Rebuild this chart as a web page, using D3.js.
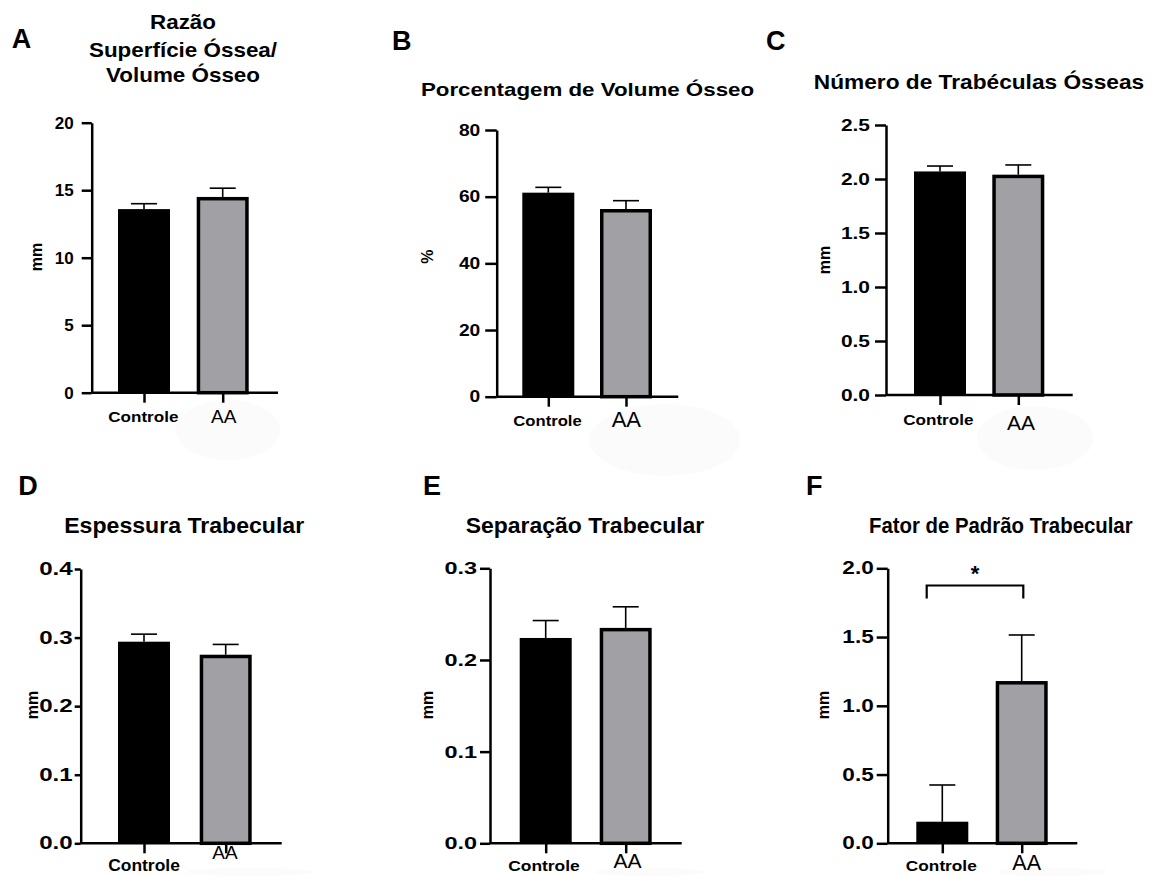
<!DOCTYPE html>
<html>
<head>
<meta charset="utf-8">
<script src="https://cdn.jsdelivr.net/npm/d3@7"></script>
<style>
  body { margin: 0; background: #fff; }
  svg { display: block; }
  text { font-family: "Liberation Sans", Arial, sans-serif; fill: #000; }
</style>
</head>
<body>
<svg width="1155" height="876"></svg>
<script>
// ---- data ----
var panelLetters = ["A", "B", "C", "D", "E", "F"];
var panelTitles = [
  ["Razão", "Superfície Óssea/", "Volume Ósseo"],
  ["Porcentagem de Volume Ósseo"],
  ["Número de Trabéculas Ósseas"],
  ["Espessura Trabecular"],
  ["Separação Trabecular"],
  ["Fator de Padrão Trabecular"]
];
var groups = ["Controle", "AA"];
var yLabels = ["mm", "%", "mm", "mm", "mm", "mm"];
var yMax = [20, 80, 2.5, 0.4, 0.3, 2.0];
var yTicks = [
  [0, 5, 10, 15, 20],
  [0, 20, 40, 60, 80],
  [0, 0.5, 1.0, 1.5, 2.0, 2.5],
  [0, 0.1, 0.2, 0.3, 0.4],
  [0, 0.1, 0.2, 0.3],
  [0, 0.5, 1.0, 1.5, 2.0]
];
var tickDecimals = [0, 0, 1, 1, 1, 1];
var controleMean = [13.6, 61.2, 2.07, 0.294, 0.224, 0.157];
var controleErr  = [0.4, 1.6, 0.05, 0.011, 0.019, 0.267];
var aaMean       = [14.5, 56.3, 2.04, 0.275, 0.235, 1.18];
var aaErr        = [0.65, 2.5, 0.09, 0.015, 0.023, 0.335];
// significance bracket (panel F only): bar height and leg bottom in data units
var sigLabel = [null, null, null, null, null, "*"];
var sigTop   = [null, null, null, null, null, 1.875];
var sigLeg   = [null, null, null, null, null, 1.78];

// ---- layout (positions / styles per panel) ----
var layout = [
  {left: 91.7, right: 278, top: 122.7, bottom: 392.7, cx: [144, 222.7],
   letter: [11.7, 48.3], titleX: 183, titleY: [28.5, 56.5, 82], titleSize: 19.5, titleSx: 1.15,
   tickSize: 10, tickPad: 8, tickFont: 17, tickSx: 1.0,
   ylab: [41.7, 257],
   ctrlLab: [143.3, 421.7, 14, 1.22], aaLab: [223.7, 423.3, 19],
   blob: [228, 430, 52, 30]},
  {left: 496.7, right: 678.3, top: 130, bottom: 396.7, cx: [548.3, 626],
   letter: [392, 50], titleX: 587.5, titleY: [96], titleSize: 19, titleSx: 1.175,
   tickSize: 11.5, tickPad: 5, tickFont: 16, tickSx: 1.2,
   ylab: [433, 256.7],
   ctrlLab: [547.5, 425.7, 15, 1.11], aaLab: [626.3, 426.7, 22],
   blob: [665, 440, 75, 36]},
  {left: 886, right: 1072.7, top: 125, bottom: 395, cx: [940, 1018.3],
   letter: [766, 50], titleX: 979, titleY: [89.3], titleSize: 20, titleSx: 1.135,
   tickSize: 11, tickPad: 5, tickFont: 16.5, tickSx: 1.27,
   ylab: [830, 260],
   ctrlLab: [938.3, 425, 14, 1.22], aaLab: [1021, 430, 21],
   blob: [1035, 438, 58, 32]},
  {left: 80.7, right: 281.7, top: 569, bottom: 843.3, cx: [144, 225.7],
   letter: [18.3, 495], titleX: 184.2, titleY: [533], titleSize: 22, titleSx: 1.05,
   tickSize: 6, tickPad: 2, tickFont: 17.5, tickSx: 1.38,
   ylab: [38.3, 705],
   ctrlLab: [144, 871, 16, 1.09], aaLab: [225, 859.3, 19],
   blob: [250, 872, 63, 4]},
  {left: 490, right: 681.7, top: 568.3, bottom: 843.3, cx: [545.7, 625.7],
   letter: [423, 495], titleX: 585, titleY: [533], titleSize: 22, titleSx: 1.044,
   tickSize: 10, tickPad: 3, tickFont: 17, tickSx: 1.38,
   ylab: [433, 705],
   ctrlLab: [544, 871, 15, 1.16], aaLab: [627.5, 867.5, 21],
   blob: [650, 872, 55, 4]},
  {left: 887.7, right: 1077.3, top: 568.3, bottom: 843.3, cx: [942.3, 1021.7],
   letter: [806, 495], titleX: 1000.8, titleY: [533], titleSize: 22, titleSx: 0.926,
   tickSize: 11, tickPad: 3, tickFont: 17.5, tickSx: 1.29,
   ylab: [829, 705],
   ctrlLab: [941.3, 871, 15, 1.15], aaLab: [1026.7, 870, 21.5],
   blob: [1052, 872, 55, 4],
   sigX: [-15.6, 1.6]}
];

var barWidth = 52;
var aaStroke = 3.5;
var aaFill = "#a1a0a5";
var axisStroke = 2.5;
var errStroke = 1.6;
var capWidth = 26;

var svg = d3.select("svg");

function putText(g, x, y, str, size, weight, sx, anchor) {
  return g.append("text")
      .attr("transform", "translate(" + x + "," + y + ") scale(" + sx + ",1)")
      .attr("text-anchor", anchor || "middle")
      .style("font-size", size + "px")
      .style("font-weight", weight)
      .text(str);
}

//////////// DRAW PANELS ////////////
layout.forEach(function(L, i) {
  var g = svg.append("g").attr("class", "panel panel-" + panelLetters[i]);

  // faint scan smudge behind the AA label
  g.append("ellipse")
      .attr("cx", L.blob[0]).attr("cy", L.blob[1])
      .attr("rx", L.blob[2]).attr("ry", L.blob[3])
      .attr("fill", "#fbfbfb");

  var y = d3.scaleLinear().domain([0, yMax[i]]).range([L.bottom, L.top]);
  var x = d3.scalePoint().domain(groups).range(L.cx);

  // panel letter
  putText(g, L.letter[0], L.letter[1], panelLetters[i], 27, "bold", 1, "start");

  // title lines
  panelTitles[i].forEach(function(line, k) {
    putText(g, L.titleX, L.titleY[k], line, L.titleSize, "bold", L.titleSx);
  });

  var rows = [
    {group: groups[0], mean: controleMean[i], err: controleErr[i]},
    {group: groups[1], mean: aaMean[i], err: aaErr[i]}
  ];

  // error bars (upper whisker only), drawn under bars
  var eb = g.append("g").attr("class", "errors");
  eb.selectAll("line.stem")
    .data(rows)
    .enter().append("line")
      .attr("class", "stem")
      .attr("x1", function(d) { return x(d.group); })
      .attr("x2", function(d) { return x(d.group); })
      .attr("y1", function(d) { return y(d.mean); })
      .attr("y2", function(d) { return y(d.mean + d.err); })
      .attr("stroke", "#000").attr("stroke-width", errStroke);
  eb.selectAll("line.cap")
    .data(rows)
    .enter().append("line")
      .attr("class", "cap")
      .attr("x1", function(d) { return x(d.group) - capWidth / 2; })
      .attr("x2", function(d) { return x(d.group) + capWidth / 2; })
      .attr("y1", function(d) { return y(d.mean + d.err); })
      .attr("y2", function(d) { return y(d.mean + d.err); })
      .attr("stroke", "#000").attr("stroke-width", errStroke);

  // bars
  g.append("g").attr("class", "bars")
    .selectAll("rect")
    .data(rows)
    .enter().append("rect")
      .attr("x", function(d, j) { return x(d.group) - barWidth / 2 + (j ? aaStroke / 2 : 0); })
      .attr("width", function(d, j) { return barWidth - (j ? aaStroke : 0); })
      .attr("y", function(d, j) { return y(d.mean) + (j ? aaStroke / 2 : 0); })
      .attr("height", function(d, j) { return L.bottom - y(d.mean) - (j ? aaStroke / 2 : 0); })
      .attr("fill", function(d, j) { return j ? aaFill : "#000"; })
      .attr("stroke", "#000")
      .attr("stroke-width", function(d, j) { return j ? aaStroke : 0; });

  // y axis
  var yAxis = d3.axisLeft(y)
      .tickValues(yTicks[i])
      .tickSize(L.tickSize)
      .tickSizeOuter(0)
      .tickFormat(d3.format("." + tickDecimals[i] + "f"));
  var ya = g.append("g")
      .attr("transform", "translate(" + L.left + ",0)")
      .call(yAxis);
  ya.select(".domain").attr("stroke-width", axisStroke);
  ya.selectAll(".tick line").attr("stroke-width", axisStroke);
  ya.selectAll(".tick text")
      .attr("x", -(L.tickSize + L.tickPad) / L.tickSx)
      .attr("transform", "scale(" + L.tickSx + ",1)")
      .style("font-size", L.tickFont + "px")
      .style("font-weight", "bold")
      .style("font-family", "'Liberation Sans', Arial, sans-serif");

  // x axis: baseline line + tick marks
  g.append("line")
      .attr("x1", L.left).attr("x2", L.right)
      .attr("y1", L.bottom).attr("y2", L.bottom)
      .attr("stroke", "#000").attr("stroke-width", axisStroke);
  var xa = g.append("g")
      .attr("transform", "translate(0," + L.bottom + ")")
      .call(d3.axisBottom(x).tickSize(10).tickFormat(""));
  xa.select(".domain").remove();
  xa.selectAll(".tick line").attr("stroke-width", axisStroke);

  // category labels (different styles, as in the original)
  putText(g, L.ctrlLab[0], L.ctrlLab[1], groups[0], L.ctrlLab[2], "bold", L.ctrlLab[3]);
  putText(g, L.aaLab[0], L.aaLab[1], groups[1], L.aaLab[2], "normal", 1);

  // y label
  g.append("text")
      .attr("transform", "translate(" + L.ylab[0] + "," + L.ylab[1] + ") rotate(-90)")
      .attr("text-anchor", "middle")
      .style("font-size", "16px")
      .style("font-weight", "bold")
      .text(yLabels[i]);

  // significance bracket
  if (sigLabel[i]) {
    var xl = x(groups[0]) + L.sigX[0], xr = x(groups[1]) + L.sigX[1];
    g.append("path")
        .attr("d", "M" + xl + "," + y(sigLeg[i]) + "V" + y(sigTop[i]) + "H" + xr + "V" + y(sigLeg[i]))
        .attr("fill", "none")
        .attr("stroke", "#000")
        .attr("stroke-width", 2.2);
    putText(g, (xl + xr) / 2, y(sigTop[i]) - 4, sigLabel[i], 22, "bold", 1);
  }
});
</script>
</body>
</html>
